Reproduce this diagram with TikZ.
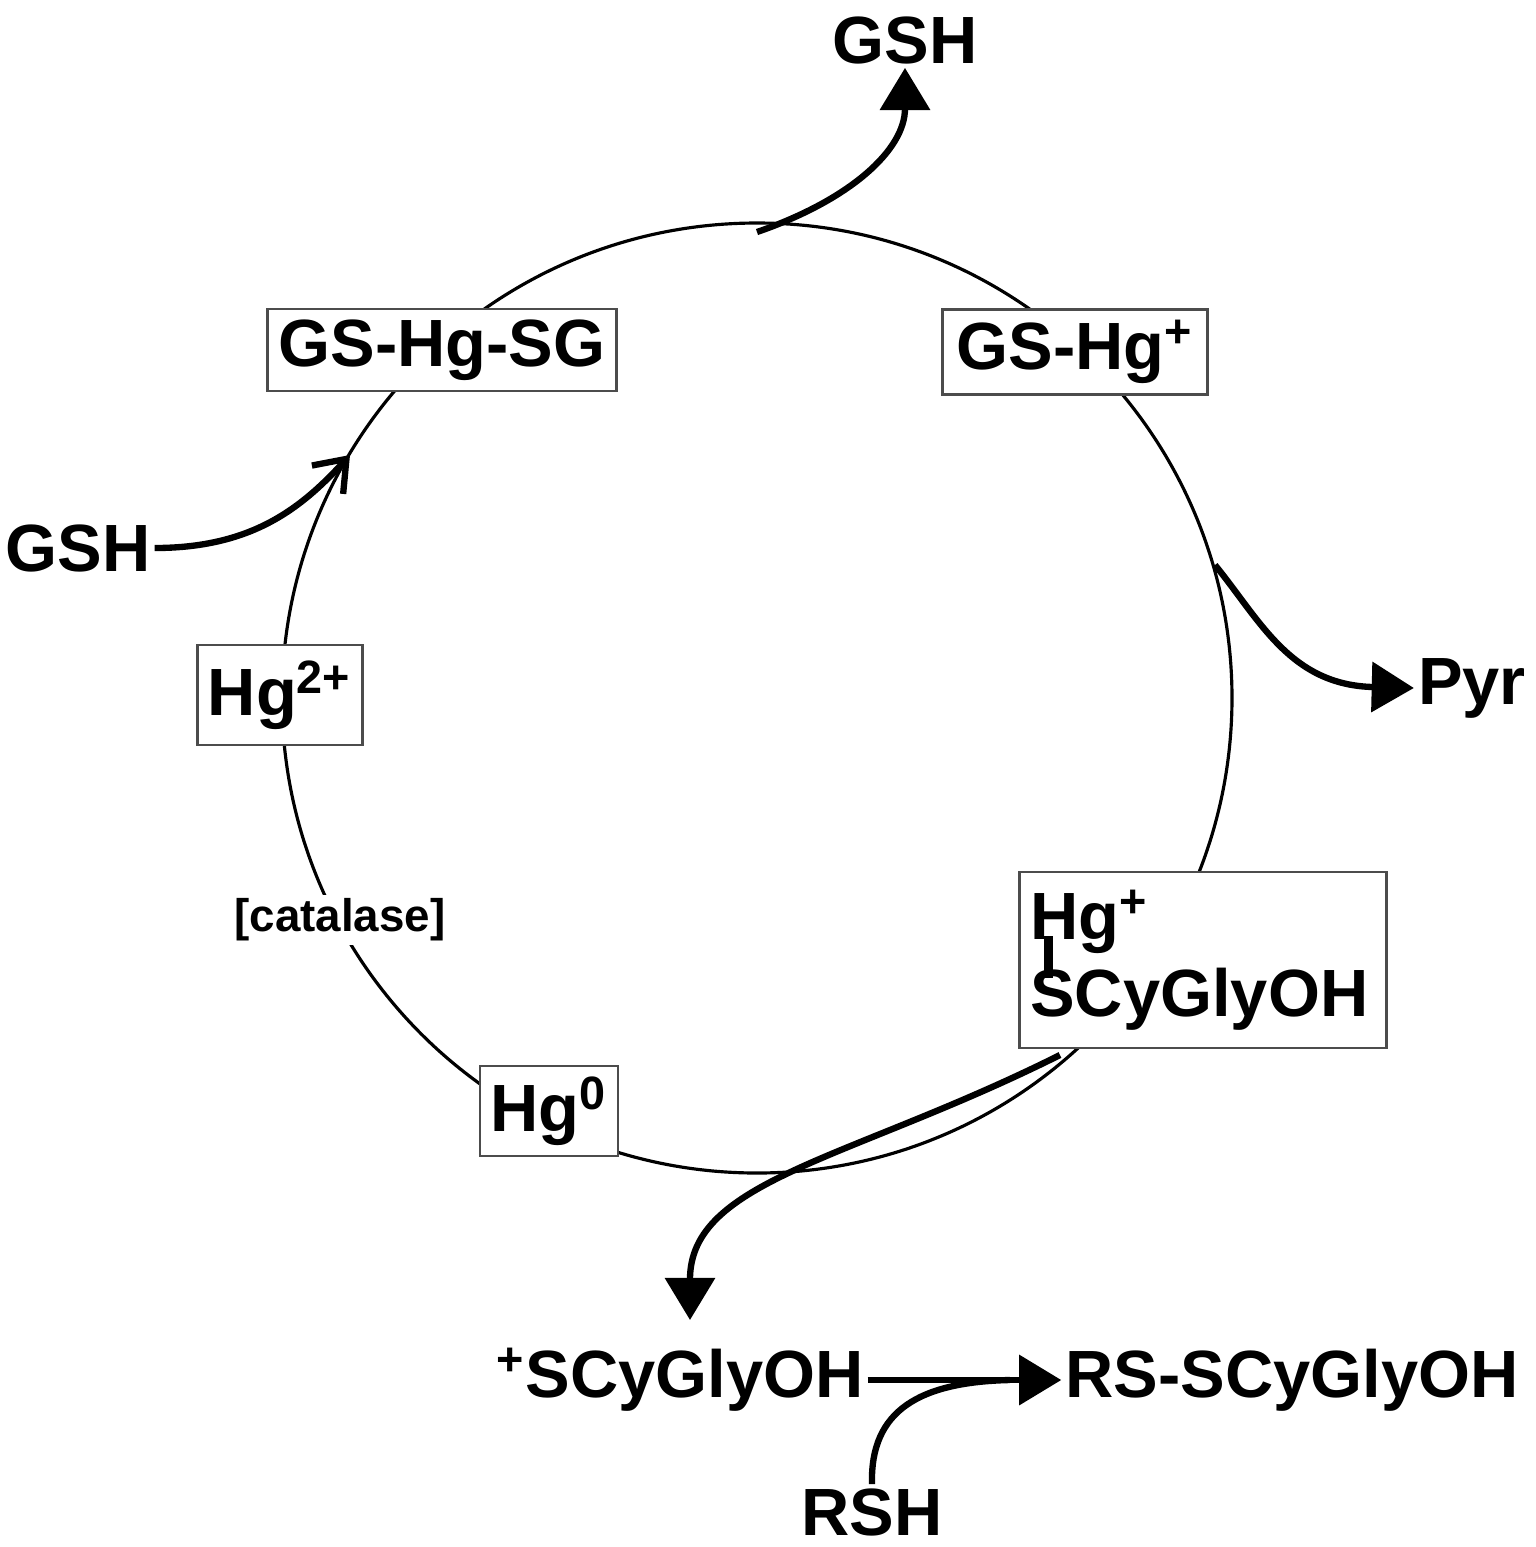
\documentclass[tikz,border=0pt]{standalone}
\usepackage{fontspec}
\setmainfont{Liberation Sans}
\usetikzlibrary{arrows.meta}
\begin{document}
\begin{tikzpicture}[x=0.01cm,y=-0.01cm,
    species/.style={draw=black!70,fill=white,line width=0.8pt,inner sep=3pt,font=\fontsize{19}{21}\selectfont\bfseries},
    label/.style={font=\fontsize{19}{21}\selectfont\bfseries,inner sep=1pt},
    flow/.style={line width=1.8pt,-{Triangle[length=12pt,width=14pt]}}]
\useasboundingbox (0,0) rectangle (1536,1547);
% cycle
\draw[line width=0.9pt] (757,698) circle[radius=475];
\node[fill=white,inner sep=1pt,font=\fontsize{13}{15}\selectfont\bfseries] (cat) at (340,920) {[catalase]};
\node[species,minimum width=3.49cm,minimum height=0.8cm] (gshgsg) at (442,350) {GS-Hg-SG};
\node[species,minimum width=2.65cm,minimum height=0.81cm] (gshg) at (1075,352) {GS-Hg\textsuperscript{+}};
\node[species,minimum width=1.61cm,minimum height=1.0cm] (hgii) at (280,695) {Hg\textsuperscript{2+}};
\node[species,minimum width=1.27cm,minimum height=0.87cm] (hgo) at (549,1111) {Hg\textsuperscript{0}};
\node[species,minimum width=3.64cm,minimum height=1.76cm,align=left,text width=3.45cm] (hgcys) at (1203,960)
  {Hg\textsuperscript{+}\\[-10pt]\hspace{4pt}\rule{2.5pt}{12pt}\\[-10pt]SCyGlyOH};
% outer species
\node[label] (gshtop) at (905,40) {GSH};
\node[label] (gshin) at (78,548) {GSH};
\node[label] (pyr) at (1472,688) {Pyr};
\node[label] (cys) at (680,1380) {\textsuperscript{+}SCyGlyOH};
\node[label] (rscys) at (1292,1380) {RS-SCyGlyOH};
\node[label] (rsh) at (872,1512) {RSH};
\coordinate (top) at (757,232);
\coordinate (right) at (1215,565);
\coordinate (bottom) at (1060,1055);
\coordinate (join) at (1010,1380);
\coordinate (inpt) at (350,455);
% reactions
\draw[flow] (top) .. controls (850,200) and (905,150) .. (gshtop.south);
\draw[line width=1.8pt,-{Straight Barb[length=8pt,width=12pt]}] (gshin.east) .. controls (250,548) and (300,510) .. (inpt);
\draw[flow] (right) .. controls (1260,620) and (1290,685) .. (pyr.west);
\draw[flow] (bottom) .. controls (850,1160) and (690,1180) .. (690,1320);
\draw[flow] (cys.east) -- (rscys.west);
\draw[line width=1.8pt] (rsh.north) .. controls (870,1410) and (920,1382) .. (join);
\end{tikzpicture}
\end{document}
